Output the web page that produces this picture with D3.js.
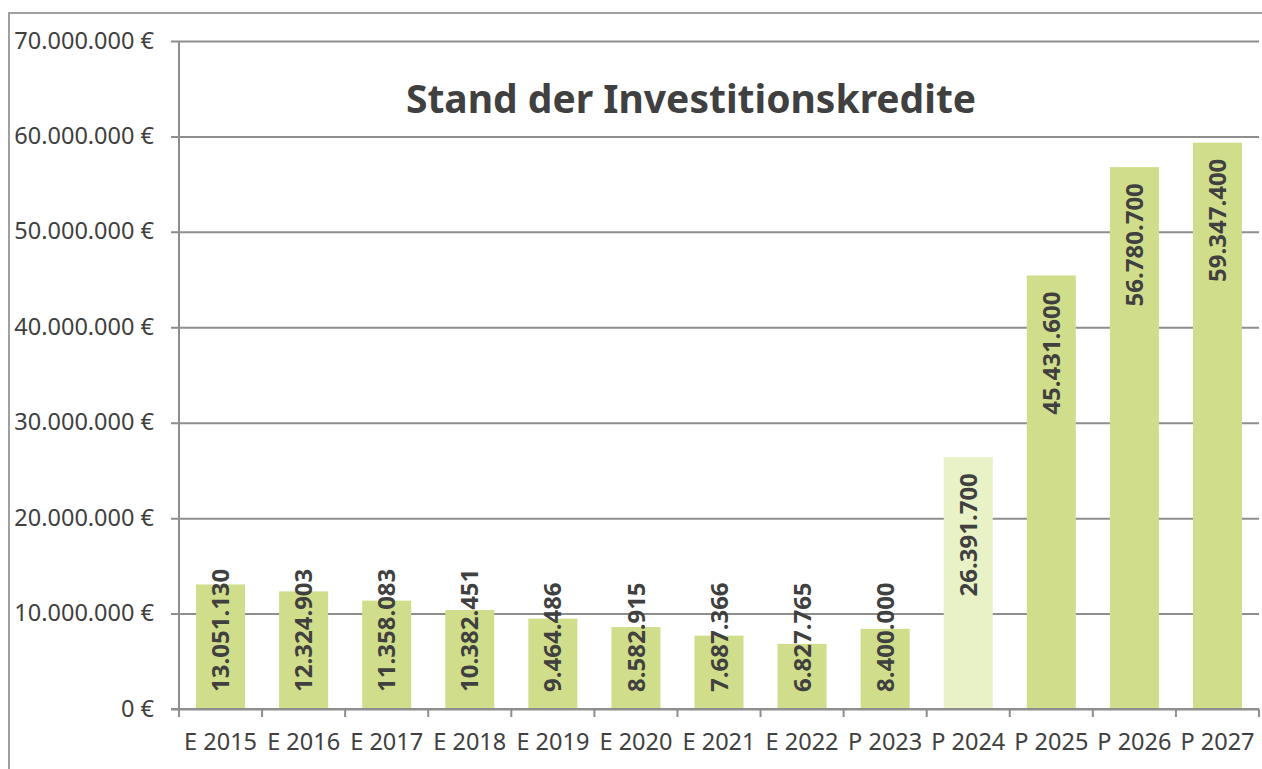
<!DOCTYPE html>
<html>
<head>
<meta charset="utf-8">
<script src="https://cdn.jsdelivr.net/npm/d3@7"></script>
<style>
  body { margin: 0; background: #fff; }
  svg { display: block; font-family: "Noto Sans", sans-serif; }
</style>
</head>
<body>
<div id="chart"></div>
<script>
// Daten
var categories = ['E 2015', 'E 2016', 'E 2017', 'E 2018', 'E 2019', 'E 2020', 'E 2021',
                  'E 2022', 'P 2023', 'P 2024', 'P 2025', 'P 2026', 'P 2027'];
var values = [13051130, 12324903, 11358083, 10382451, 9464486, 8582915, 7687366,
              6827765, 8400000, 26391700, 45431600, 56780700, 59347400];
var yTicks = [0, 10000000, 20000000, 30000000, 40000000, 50000000, 60000000, 70000000];
var highlight = ['P 2024'];

var width = 1262, height = 769;
var plotLeft = 179, plotRight = 1259, plotTop = 41, plotBottom = 709;
var textColor = '#404040';
var lineColor = '#8e8e8e';

var svg = d3.select('#chart')
    .append('svg')
    .attr('width', width)
    .attr('height', height);

// Rahmen
svg.append('rect')
    .attr('x', 9)
    .attr('y', 13)
    .attr('width', width)
    .attr('height', height)
    .attr('fill', 'none')
    .attr('stroke', '#a0a0a0')
    .attr('stroke-width', 2);

var xScale = d3.scaleBand()
    .domain(categories)
    .range([plotLeft, plotRight])
    .paddingInner(0.41)
    .paddingOuter(0.205);

var yScale = d3.scaleLinear()
    .domain([0, 70000000])
    .range([plotBottom, plotTop]);

var fmt = d3.formatLocale({ decimal: ',', thousands: '.', grouping: [3], currency: ['', ' €'] });
var numFmt = fmt.format(',.0f');

// y-Achse mit Gitternetz
var yAxis = d3.axisLeft(yScale)
    .tickValues(yTicks)
    .tickSizeInner(-(plotRight - plotLeft))
    .tickSizeOuter(0)
    .tickFormat(function(d) { return numFmt(d) + ' €'; });

var gy = svg.append('g')
    .attr('transform', 'translate(' + plotLeft + ',0)')
    .call(yAxis)
    .attr('font-family', null)
    .attr('font-size', null);
gy.select('.domain').remove();
gy.selectAll('.tick line')
    .attr('x1', -8)
    .attr('stroke', lineColor)
    .attr('stroke-width', 2);
gy.selectAll('.tick text')
    .attr('x', -25)
    .attr('dy', '0.3em')
    .attr('fill', textColor)
    .style('font-size', '23.5px');

// vertikale Achsenlinie
svg.append('line')
    .attr('x1', plotLeft).attr('x2', plotLeft)
    .attr('y1', plotTop).attr('y2', plotBottom)
    .attr('stroke', lineColor)
    .attr('stroke-width', 2);

// Balken
svg.append('g')
    .selectAll('rect')
    .data(values)
    .enter()
    .append('rect')
    .attr('x', function(d, i) { return xScale(categories[i]); })
    .attr('y', function(d) { return yScale(d); })
    .attr('width', xScale.bandwidth())
    .attr('height', function(d) { return yScale(0) - yScale(d); })
    .attr('fill', function(d, i) { return highlight.indexOf(categories[i]) >= 0 ? '#e9f1c6' : '#d0dd8a'; });

// x-Achse
var xAxis = d3.axisBottom(xScale)
    .tickSize(0)
    .tickPadding(24);

var gx = svg.append('g')
    .attr('transform', 'translate(0,' + plotBottom + ')')
    .call(xAxis)
    .attr('font-family', null)
    .attr('font-size', null);
gx.select('.domain').remove();
gx.selectAll('.tick text')
    .attr('fill', textColor)
    .style('font-size', '23.5px');

svg.append('line')
    .attr('x1', plotLeft - 8).attr('x2', plotRight)
    .attr('y1', plotBottom).attr('y2', plotBottom)
    .attr('stroke', lineColor)
    .attr('stroke-width', 2);

// Teilstriche zwischen den Kategorien
var step = xScale.step();
var boundaries = categories.map(function(c, i) { return plotLeft + i * step; }).concat([plotRight]);
svg.append('g')
    .selectAll('line')
    .data(boundaries)
    .enter()
    .append('line')
    .attr('x1', function(d) { return d; })
    .attr('x2', function(d) { return d; })
    .attr('y1', plotBottom)
    .attr('y2', plotBottom + 8)
    .attr('stroke', lineColor)
    .attr('stroke-width', 2);

// Datenbeschriftungen
var labels = svg.append('g')
    .selectAll('text')
    .data(values)
    .enter()
    .append('text')
    .attr('text-anchor', 'end')
    .attr('dy', '0.36em')
    .attr('fill', textColor)
    .style('font-size', '24px')
    .style('font-weight', 'bold')
    .text(function(d) { return numFmt(d); });

labels.attr('transform', function(d, i) {
    var len = this.getComputedTextLength();
    var cx = xScale(categories[i]) + xScale.bandwidth() / 2;
    var yTop = Math.min(yScale(d) + 16, plotBottom - 17 - len);
    return 'translate(' + cx + ',' + yTop + ') rotate(-90)';
});

// Titel
svg.append('text')
    .attr('x', 691)
    .attr('y', 113)
    .attr('text-anchor', 'middle')
    .attr('fill', textColor)
    .style('font-size', '39px')
    .style('font-weight', 'bold')
    .text('Stand der Investitionskredite');
</script>
</body>
</html>
